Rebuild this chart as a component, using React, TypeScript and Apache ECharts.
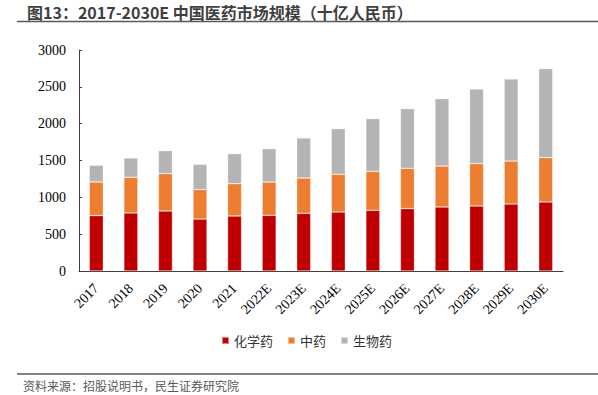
import React, { useEffect, useRef } from "react";
import * as echarts from "echarts";

const categories = ["2017", "2018", "2019", "2020", "2021", "2022E", "2023E", "2024E", "2025E", "2026E", "2027E", "2028E", "2029E", "2030E"];
const chemical = [752, 788, 815, 706, 747, 756, 783, 801, 824, 847, 869, 882, 909, 937];
const tcm = [456, 484, 507, 399, 439, 452, 479, 512, 529, 547, 556, 576, 584, 602];
const bio = [227, 262, 312, 343, 407, 453, 544, 620, 716, 810, 915, 1013, 1113, 1208];
const seriesNames = ["化学药", "中药", "生物药"];
const colors = ["#C00000", "#ED7D31", "#B4B4B4"];
const titleText = "图13：2017-2030E 中国医药市场规模（十亿人民币）";
const sourceText = "资料来源：招股说明书，民生证券研究院";

const serif = "'Liberation Serif', 'Times New Roman', serif";
const cjk = "'Noto Sans CJK SC', sans-serif";

export default function App() {
  const ref = useRef<HTMLDivElement>(null);
  useEffect(() => {
    if (!ref.current) return;
    const chart = echarts.init(ref.current, undefined, { renderer: "svg" });
    const data = [chemical, tcm, bio];
    chart.setOption({
      animation: false,
      backgroundColor: "#ffffff",
      grid: { left: 79, right: 35, top: 50, bottom: 124, containLabel: false },
      legend: {
        data: seriesNames,
        left: 216,
        top: 329,
        itemWidth: 7,
        itemHeight: 7,
        itemGap: 14,
        icon: "rect",
        textStyle: { fontFamily: cjk, fontSize: 13, color: "#333333" },
      },
      xAxis: {
        type: "category",
        data: categories,
        axisLine: { lineStyle: { color: "#404040", width: 1 } },
        axisTick: { inside: true, length: 4, lineStyle: { color: "#404040" } },
        axisLabel: { rotate: 45, margin: 15, fontFamily: serif, fontSize: 14, color: "#000000" },
      },
      yAxis: {
        type: "value",
        min: 0,
        max: 3000,
        interval: 500,
        splitLine: { show: false },
        axisLine: { show: true, lineStyle: { color: "#404040", width: 1 } },
        axisTick: { show: true, inside: true, length: 3, lineStyle: { color: "#404040" } },
        axisLabel: {
          margin: 13,
          fontFamily: serif,
          fontSize: 14,
          color: "#000000",
          formatter: (v: number) => String(v),
        },
      },
      series: seriesNames.map((name, i) => ({
        name,
        type: "bar",
        stack: "total",
        barWidth: 14,
        data: data[i],
        itemStyle: { color: colors[i], borderColor: "rgba(255,255,255,0.5)", borderWidth: 0.6 },
      })),
      graphic: [
        {
          type: "text",
          left: 27,
          top: 4,
          style: { text: titleText, font: `bold 16px ${cjk}`, fill: "#3f3f3f" },
        },
        {
          type: "line",
          shape: { x1: 17, y1: 21.5, x2: 598, y2: 21.5 },
          style: { stroke: "#595959", lineWidth: 1.5 },
        },
        {
          type: "line",
          shape: { x1: 17, y1: 374, x2: 598, y2: 374 },
          style: { stroke: "#595959", lineWidth: 1.5 },
        },
        {
          type: "text",
          left: 23,
          top: 379,
          style: { text: sourceText, font: `12px ${cjk}`, fill: "#595959" },
        },
      ],
    });
    return () => chart.dispose();
  }, []);
  return (
    <div
      ref={ref}
      style={{ position: "fixed", left: 0, top: 0, width: 598, height: 395, background: "#fff" }}
    />
  );
}
